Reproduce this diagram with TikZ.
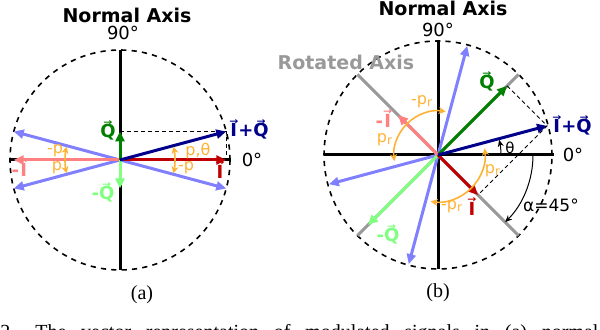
\documentclass[tikz,border=0pt]{standalone}
\usepackage{fontspec}
\setmainfont{DejaVu Sans}
\newfontfamily\capfont{Liberation Serif}
\usetikzlibrary{positioning, arrows.meta, calc}
\definecolor{vecblue}{HTML}{00008B}
\definecolor{vecred}{HTML}{C00000}
\definecolor{vecpink}{HTML}{FF8080}
\definecolor{vecgreen}{HTML}{008000}
\definecolor{veclime}{HTML}{80FF80}
\definecolor{veclav}{HTML}{8080FF}
\definecolor{vecorange}{HTML}{FFB133}
\definecolor{axgray}{HTML}{999999}
\newcommand{\ovec}[1]{\ooalign{\hfil#1\hfil\cr\hfil\raisebox{0.7em}{\scalebox{0.6}[0.5]{→}}\hfil\cr}}

\begin{document}
\begin{tikzpicture}[
  x=0.5pt, y=0.5pt,
  axisline/.style={line width=1.5pt},
  rotaxis/.style={line width=1.5pt, draw=axgray},
  vecarrow/.style={line width=1.5pt, draw=#1, -{Triangle[length=5pt,width=4.5pt]}},
  ring/.style={line width=0.8pt, dash pattern=on 2.6pt off 2.6pt},
  guide/.style={line width=0.45pt, dash pattern=on 2pt off 1.5pt},
  angarc/.style={line width=0.8pt, draw=vecorange, -{Stealth[length=3.5pt,width=3.5pt]}},
  blackarc/.style={line width=0.5pt, -{Stealth[length=3.5pt,width=3pt]}},
  title/.style={font=\bfseries\fontsize{9.5}{10}\selectfont, inner sep=0pt},
  deg/.style={font=\fontsize{9}{10}\selectfont, inner sep=0pt},
  veclbl/.style={font=\bfseries\fontsize{9}{10}\selectfont, text=#1, inner sep=0pt},
  anglbl/.style={font=\fontsize{8}{9}\selectfont, text=vecorange, inner sep=0pt},
  sublbl/.style={font=\capfont\fontsize{10}{11}\selectfont, inner sep=0pt},
]
\clip (0,0) rectangle (600,330);

% (a) normal axis
\begin{scope}[shift={(120,170)}]
\coordinate (aO) at (0,0);
\coordinate (aN) at (90:110);
\coordinate (aS) at (270:110);
\coordinate (aE) at (0:110);
\coordinate (aW) at (180:110);
\coordinate (aI) at (106.3,0);
\coordinate (aQ) at (0,28.5);
\coordinate (amI) at (-106.3,0);
\coordinate (amQ) at (0,-28.5);
\coordinate (aIQ) at ($(aI)+(aQ)$);
\coordinate (aL1) at (165:110);
\coordinate (aL2) at (195:110);
\coordinate (aL3) at (345:110);

\draw[ring] (aO) circle[radius=110];
\draw[axisline] (aW) -- (aE);
\draw[axisline] (aN) -- (aS);
\draw[guide] (aQ) -- (aIQ) -- (aI);
\foreach \t in {aL1,aL2,aL3} {
  \draw[vecarrow=veclav] (aO) -- (\t);
}
\draw[vecarrow=vecpink] (aO) -- (amI);
\draw[vecarrow=vecred] (aO) -- (aI);
\draw[vecarrow=veclime] (aO) -- (amQ);
\draw[vecarrow=vecgreen] (aO) -- (aQ);
\draw[vecarrow=vecblue] (aO) -- (aIQ);

% angles
\draw[angarc] (aO) ++(0:55) arc[start angle=0, end angle=14, radius=55];
\draw[angarc] (aO) ++(0:55) arc[start angle=0, end angle=-14, radius=55];
\draw[angarc] (aO) ++(180:55) arc[start angle=180, end angle=166, radius=55];
\draw[angarc] (aO) ++(180:55) arc[start angle=180, end angle=194, radius=55];

\node[title] (aTitle) at (7,145) {Normal Axis};
\node[deg] (a90) at (3,127) {90°};
\node[deg] (a0) at (132,0) {0°};
\node[veclbl=vecblue] (aLIQ) at (129,30) {\ovec{I}+\ovec{Q}};
\node[veclbl=vecred] (aLI) at (100,-12) {\ovec{I}};
\node[veclbl=vecpink] (aLmI) at (-100,-10) {-\ovec{I}};
\node[veclbl=vecgreen] (aLQ) at (-12,29) {\ovec{Q}};
\node[veclbl=veclime] (aLmQ) at (-17,-33) {-\ovec{Q}};
\node[anglbl] (aP1) at (78,9) {p,θ};
\node[anglbl] (aP2) at (66,-8) {-p};
\node[anglbl] (aP3) at (-65,9) {-p};
\node[anglbl] (aP4) at (-63,-8) {p};
\node[sublbl] (aSub) at (22,-135) {(a)};
\end{scope}

% (b) rotated axis
\begin{scope}[shift={(438,175)}]
\coordinate (bO) at (0,0);
\coordinate (bN) at (90:114);
\coordinate (bS) at (270:114);
\coordinate (bE) at (0:116);
\coordinate (bW) at (180:114);
\foreach \a [count=\k] in {45,135,225,315} {
  \coordinate (bR\k) at (\a:114);
}
\coordinate (bI) at (-45:56.5);
\coordinate (bQ) at (45:97.7);
\coordinate (bmI) at (135:56.5);
\coordinate (bmQ) at (225:99);
\coordinate (bIQ) at ($(bI)+(bQ)$);
\coordinate (bL1) at (75:113);
\coordinate (bL2) at (195:113);
\coordinate (bL3) at (255:113);

\draw[ring] (bO) circle[radius=114];
\draw[axisline] (bW) -- (bE);
\draw[axisline] (bN) -- (bS);
\draw[rotaxis] (bR1) -- (bR3);
\draw[rotaxis] (bR2) -- (bR4);
\foreach \t in {bL1,bL2,bL3} {
  \draw[vecarrow=veclav] (bO) -- (\t);
}
\draw[vecarrow=veclime] (bO) -- (bmQ);
\draw[vecarrow=vecgreen] (bO) -- (bQ);
\draw[vecarrow=vecpink] (bO) -- (bmI);
\draw[vecarrow=vecred] (bO) -- (bI);
\draw[vecarrow=vecblue] (bO) -- (bIQ);
\draw[guide] (bQ) -- (bIQ) -- (bI);

% angles
\draw[blackarc] (bO) ++(0:63) arc[start angle=0, end angle=14, radius=63];
\draw[blackarc] (bO) ++(0:95) arc[start angle=0, end angle=-45, radius=95];
\draw[angarc] (bO) ++(135:44) arc[start angle=135, end angle=80, radius=44];
\draw[angarc] (bO) ++(135:44) arc[start angle=135, end angle=188, radius=44];
\draw[angarc] (bO) ++(-45:47) arc[start angle=-45, end angle=8, radius=47];
\draw[angarc] (bO) ++(-45:47) arc[start angle=-45, end angle=-99, radius=47];

\node[title] (bTitle) at (5,147) {Normal Axis};
\node[title, text=axgray] (bRot) at (-92,93) {Rotated Axis};
\node[deg] (b90) at (0,125) {90°};
\node[deg] (b0) at (135,0) {0°};
\node[veclbl=vecblue] (bLIQ) at (134,29) {\ovec{I}+\ovec{Q}};
\node[veclbl=vecred] (bLI) at (34,-54) {\ovec{I}};
\node[veclbl=vecpink] (bLmI) at (-54,34) {-\ovec{I}};
\node[veclbl=vecgreen] (bLQ) at (49,73) {\ovec{Q}};
\node[veclbl=veclime] (bLmQ) at (-50,-80) {-\ovec{Q}};
\node[deg, font=\fontsize{7.5}{8}\selectfont] (bTh) at (72,7) {θ};
\node[deg, font=\fontsize{8.5}{9}\selectfont] (bAl) at (113,-50) {α=45°};
\node[anglbl] (bP1) at (-16,53) {-p\textsubscript{r}};
\node[anglbl] (bP2) at (-53,15) {p\textsubscript{r}};
\node[anglbl] (bP3) at (55,-16) {p\textsubscript{r}};
\node[anglbl] (bP4) at (14,-52) {-p\textsubscript{r}};
\node[sublbl] (bSub) at (0,-138) {(b)};
\end{scope}

% caption
\node[sublbl, anchor=base west] (cap) at (0,-9) {\hbox to 299pt{2.\quad The vector representation of modulated signals in (a) normal}};
\end{tikzpicture}
\end{document}
